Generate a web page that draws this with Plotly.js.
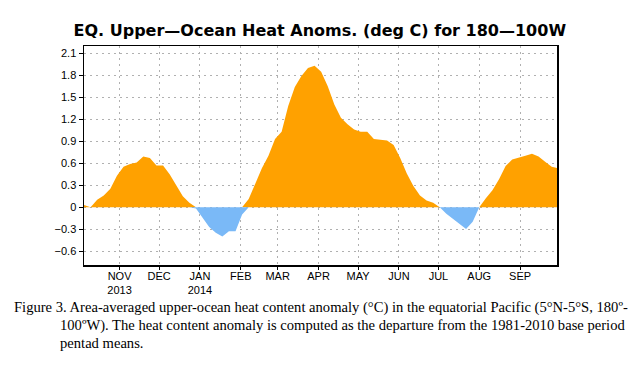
<!DOCTYPE html>
<html>
<head>
<meta charset="utf-8">
<script src="https://cdn.plot.ly/plotly-3.0.1.min.js"></script>
<style>
  html, body { margin: 0; padding: 0; background: #fff; }
  #chart { width: 637px; height: 370px; }
</style>
</head>
<body>
<div id="chart"></div>
<script>
// Pentad dates (every 5 days) and heat content anomaly (deg C)
const dates = [
  "2013-10-05","2013-10-10","2013-10-15","2013-10-20","2013-10-25","2013-10-30",
  "2013-11-04","2013-11-09","2013-11-14","2013-11-19","2013-11-24","2013-11-29",
  "2013-12-04","2013-12-09","2013-12-14","2013-12-19","2013-12-24","2013-12-29",
  "2014-01-03","2014-01-08","2014-01-13","2014-01-18","2014-01-23","2014-01-28",
  "2014-02-02","2014-02-07","2014-02-12","2014-02-17","2014-02-22","2014-02-27",
  "2014-03-04","2014-03-09","2014-03-14","2014-03-19","2014-03-24","2014-03-29",
  "2014-04-03","2014-04-08","2014-04-13","2014-04-18","2014-04-23","2014-04-28",
  "2014-05-03","2014-05-08","2014-05-13","2014-05-18","2014-05-23","2014-05-28",
  "2014-06-02","2014-06-07","2014-06-12","2014-06-17","2014-06-22","2014-06-27",
  "2014-07-02","2014-07-07","2014-07-12","2014-07-17","2014-07-22","2014-07-27",
  "2014-08-01","2014-08-06","2014-08-11","2014-08-16","2014-08-21","2014-08-26",
  "2014-08-31","2014-09-05","2014-09-10","2014-09-15","2014-09-20","2014-09-25",
  "2014-09-30"
];
const anomaly = [
  0.03, 0.00, 0.10, 0.16, 0.25, 0.43,
  0.55, 0.59, 0.61, 0.69, 0.67, 0.57,
  0.57, 0.45, 0.30, 0.15, 0.06, -0.02,
  -0.14, -0.27, -0.35, -0.40, -0.33, -0.33,
  -0.10, 0.11, 0.32, 0.53, 0.70, 0.93,
  1.03, 1.38, 1.64, 1.79, 1.90, 1.93,
  1.85, 1.65, 1.40, 1.22, 1.13, 1.06,
  1.03, 1.03, 0.93, 0.92, 0.91, 0.85,
  0.67, 0.46, 0.29, 0.16, 0.09, 0.06,
  0.00, -0.09, -0.16, -0.23, -0.30, -0.20,
  0.00, 0.12, 0.23, 0.38, 0.56, 0.65,
  0.67, 0.70, 0.73, 0.69, 0.62, 0.55,
  0.53
];

// Axis ticks
const xTickVals = ["2013-11-01","2013-12-01","2014-01-01","2014-02-01","2014-03-01","2014-04-01",
                   "2014-05-01","2014-06-01","2014-07-01","2014-08-01","2014-09-01"];
const xTickText = ["NOV<br>2013","DEC","JAN<br>2014","FEB","MAR","APR","MAY","JUN","JUL","AUG","SEP"];
const yTickVals = [-0.6, -0.3, 0, 0.3, 0.6, 0.9, 1.2, 1.5, 1.8, 2.1];
const yTickText = ["\u22120.6","\u22120.3","0","0.3","0.6","0.9","1.2","1.5","1.8","2.1"];

const titleText = "EQ. Upper\u2014Ocean Heat Anoms. (deg C) for 180\u2014100W";
const captionLines = [
  "Figure 3. Area-averaged upper-ocean heat content anomaly (\u00B0C) in the equatorial Pacific (5\u00B0N-5\u00B0S, 180\u00BA-",
  "100\u00BAW). The heat content anomaly is computed as the departure from the 1981-2010 base period",
  "pentad means."
];

const posVals = anomaly.map(v => Math.max(v, 0));
const negVals = anomaly.map(v => Math.min(v, 0));

const traces = [
  { x: dates, y: posVals, type: "scatter", mode: "lines", fill: "tozeroy",
    fillcolor: "#FFA100", line: { width: 0, color: "#FFA100" }, hoverinfo: "skip" },
  { x: dates, y: negVals, type: "scatter", mode: "lines", fill: "tozeroy",
    fillcolor: "#7AB9F7", line: { width: 0, color: "#7AB9F7" }, hoverinfo: "skip" }
];

const PW = 637, PH = 370, ML = 84, MR = 80, MT = 46, MB = 105;
const plotW = PW - ML - MR, plotH = PH - MT - MB;
const px2x = px => (px - ML) / plotW;
const py2y = py => (PH - MB - py) / plotH;

const capStartX = [12, 58, 58];
const capY = [307, 325, 343];
const annotations = captionLines.map((t, i) => ({
  text: t, xref: "paper", yref: "paper", x: px2x(capStartX[i]), y: py2y(capY[i]),
  xanchor: "left", yanchor: "middle", showarrow: false,
  font: { family: "Liberation Serif, Times New Roman, serif", size: 14.6, color: "#000" }
}));

const gridDash = "2px,4px";
const layout = {
  width: PW, height: PH,
  margin: { l: ML, r: MR, t: MT, b: MB, pad: 0 },
  paper_bgcolor: "#fff", plot_bgcolor: "#fff",
  showlegend: false,
  title: { text: "<b>" + titleText + "</b>", xref: "container", yref: "container", x: 0.502, y: 1 - 30 / PH,
           xanchor: "center", yanchor: "middle",
           font: { family: "DejaVu Sans, sans-serif", size: 16, color: "#000" } },
  xaxis: {
    type: "date", range: ["2013-10-05", "2014-09-29"],
    tickvals: xTickVals, ticktext: xTickText,
    ticks: "outside", ticklen: 3, tickwidth: 1, tickcolor: "#000",
    ticklabelstandoff: -3,
    showgrid: true, gridcolor: "#b0b0b0", griddash: gridDash, gridwidth: 1,
    showline: true, linecolor: "#000", linewidth: 1.5, mirror: true,
    zeroline: false,
    tickfont: { family: "Liberation Sans, Arial, sans-serif", size: 11, color: "#000" }
  },
  yaxis: {
    range: [-0.79, 2.2],
    tickvals: yTickVals, ticktext: yTickText,
    ticks: "outside", ticklen: 4, tickwidth: 1, tickcolor: "#000",
    showgrid: true, gridcolor: "#b0b0b0", griddash: gridDash, gridwidth: 1,
    showline: true, linecolor: "#000", linewidth: 1.5, mirror: true,
    zeroline: false,
    tickfont: { family: "Liberation Sans, Arial, sans-serif", size: 11, color: "#000" }
  },
  annotations: annotations
};

Plotly.newPlot("chart", traces, layout, { staticPlot: true, displayModeBar: false });
</script>
</body>
</html>
